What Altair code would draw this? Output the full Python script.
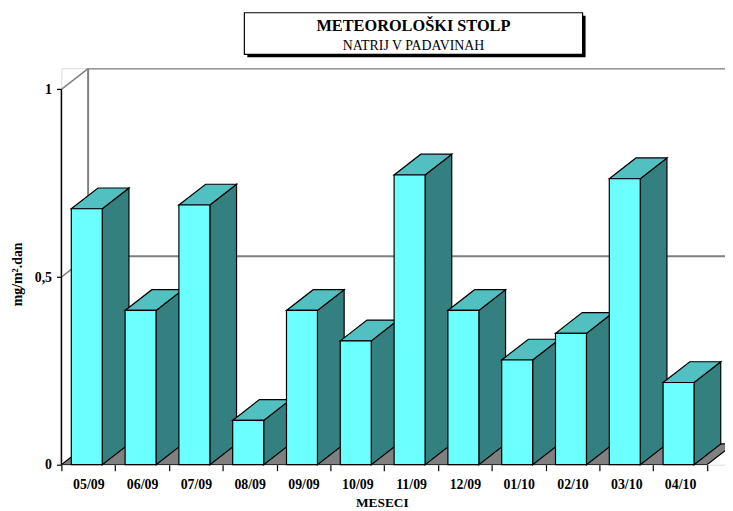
import altair as alt
import pandas as pd

# ---------------- data ----------------
months = ["05/09", "06/09", "07/09", "08/09", "09/09", "10/09",
          "11/09", "12/09", "01/10", "02/10", "03/10", "04/10"]
values = [0.682, 0.411, 0.692, 0.118, 0.411, 0.330,
          0.772, 0.411, 0.279, 0.350, 0.762, 0.219]
y_tick_values = [0, 0.5, 1]
y_tick_labels = ["0", "0,5", "1"]
title_text = "METEOROLOŠKI STOLP"
subtitle_text = "NATRIJ V PADAVINAH"
x_title = "MESECI"
y_title = "mg/m².dan"

# ---------------- geometry (pixels -> data units) ----------------
W, H = 671, 401
PX_CAT = 54.4          # pixels per category slot
PX_UNIT = 379.5        # pixels per 1.0 of value
XMAX = W / PX_CAT
YMAX = H / PX_UNIT
DX = 27 / PX_CAT       # depth offset (x)
DY = 21 / PX_UNIT      # depth offset (y)
GAP = 10 / PX_CAT
BW = 31.3 / PX_CAT
n = len(months)

FONT = "Liberation Serif"
FRONT = "#6cffff"
TOP = "#52c0c0"
SIDE = "#348080"
WALL = "#808080"

xs = alt.Scale(domain=[0, XMAX], nice=False, zero=False)
ys = alt.Scale(domain=[0, YMAX], nice=False, zero=False)

ylab_expr = " : ".join(
    f"datum.value == {v} ? '{l}'" for v, l in zip(y_tick_values, y_tick_labels)
) + " : ''"
month_arr = "[" + ",".join(f"'{m}'" for m in months) + "]"
xlab_expr = f"datum.value < {n} ? {month_arr}[datum.value] : ''"

XAXIS = alt.Axis(
    values=list(range(n + 1)), labelExpr=xlab_expr, labelOffset=PX_CAT / 2,
    domain=False, grid=False, ticks=True, tickSize=6, tickColor="black", tickWidth=1.2,
    labelFont=FONT, labelFontWeight="bold", labelFontSize=14, labelColor="black",
    labelPadding=7, labelFlush=False, labelOverlap=False, labelBound=False,
    title=x_title, titleFont=FONT, titleFontWeight="bold", titleFontSize=13.5,
    titleColor="black", titleX=324, titleY=42, titleBaseline="alphabetic",
    titleAnchor="start", titleAlign="center")
YAXIS = alt.Axis(
    values=y_tick_values, labelExpr=ylab_expr,
    domain=False, grid=False, ticks=True, tickSize=5, tickColor="black", tickWidth=1.2,
    labelFont=FONT, labelFontWeight="bold", labelFontSize=14, labelColor="black",
    labelPadding=5, labelFlush=False, labelOverlap=False, labelBound=False,
    title=y_title, titleFont=FONT, titleFontWeight="bold", titleFontSize=14,
    titleColor="black", titleX=-44, titleY=208, titleAngle=270,
    titleAlign="center", titleBaseline="middle", titleAnchor="start")


def X(f):
    return alt.X(f, scale=xs, axis=XAXIS)


def Y(f):
    return alt.Y(f, scale=ys, axis=YAXIS)


# ---------------- derived tables ----------------
front = pd.DataFrame({
    "month": months,
    "v": values,
    "x0": [i + GAP for i in range(n)],
    "x1": [i + GAP + BW for i in range(n)],
    "base": [0.0] * n,
})

side_rows, top_rows = [], []
for i, v in enumerate(values):
    x0 = i + GAP
    x1 = i + GAP + BW
    for k, (px, py) in enumerate([(x1, 0.0), (x1 + DX, DY), (x1 + DX, v + DY), (x1, v)]):
        side_rows.append({"poly": i, "k": k, "x": px, "y": py})
    for k, (px, py) in enumerate([(x0, v), (x1, v), (x1 + DX, v + DY), (x0 + DX, v + DY)]):
        top_rows.append({"poly": i, "k": k, "x": px, "y": py})
side = pd.DataFrame(side_rows)
top = pd.DataFrame(top_rows)

floor = pd.DataFrame({
    "poly": [0, 0, 0, 0], "k": [0, 1, 2, 3],
    "x": [0.0, float(n), n + DX, DX],
    "y": [0.0, 0.0, DY, DY],
})

back_lines = pd.DataFrame({
    "x": [DX, DX, DX],
    "x2": [XMAX + 1, XMAX + 1, DX],
    "y": [1 + DY, 0.5 + DY, DY],
    "y2": [1 + DY, 0.5 + DY, 1 + DY],
})
diag = pd.DataFrame({
    "x": [0.0, 0.0],
    "x2": [DX, DX],
    "y": [1.0, 0.5],
    "y2": [1 + DY, 0.5 + DY],
})
yaxis_line = pd.DataFrame({"x": [0.0], "y": [0.0], "y2": [1.0]})

# ---------------- layers ----------------
walls = alt.Chart(back_lines).mark_rule(color=WALL, strokeWidth=2, clip=True).encode(
    x=X("x:Q"), x2="x2:Q", y=Y("y:Q"), y2="y2:Q")
diags = alt.Chart(diag).mark_rule(color=WALL, strokeWidth=1.5).encode(
    x=X("x:Q"), x2="x2:Q", y=Y("y:Q"), y2="y2:Q")


def polys(df, fill, clip=False):
    return alt.Chart(df).mark_line(
        fill=fill, stroke="black", strokeWidth=1.2, interpolate="linear-closed",
        clip=clip, strokeJoin="miter"
    ).encode(x=X("x:Q"), y=Y("y:Q"), detail="poly:N", order="k:Q")


floor_layer = polys(floor, WALL, clip=True)
sides = polys(side, SIDE)
tops = polys(top, TOP)

fronts = alt.Chart(front).mark_rect(color=FRONT, stroke="black", strokeWidth=1.2).encode(
    x=X("x0:Q"), x2="x1:Q", y=Y("base:Q"), y2="v:Q")

yline = alt.Chart(yaxis_line).mark_rule(color="black", strokeWidth=1.5).encode(
    x=X("x:Q"), y=Y("y:Q"), y2="y2:Q")

# title box (decoration, pixel placed)
box_df = pd.DataFrame({"t": [title_text]})
box_shadow = alt.Chart(box_df).mark_rect(color="black").encode(
    x=alt.value(188), x2=alt.value(530), y=alt.value(-53), y2=alt.value(-11))
box = alt.Chart(box_df).mark_rect(fill="white", stroke="black", strokeWidth=1.2).encode(
    x=alt.value(185), x2=alt.value(527), y=alt.value(-56), y2=alt.value(-14))
titles = pd.DataFrame({"t": [title_text, subtitle_text]})
t1 = alt.Chart(titles.iloc[[0]]).mark_text(
    font=FONT, fontWeight="bold", fontSize=16.5, color="black", baseline="alphabetic"
).encode(text="t:N", x=alt.value(356), y=alt.value(-38))
t2 = alt.Chart(titles.iloc[[1]]).mark_text(
    font=FONT, fontWeight="normal", fontSize=14, color="black", baseline="alphabetic"
).encode(text="t:N", x=alt.value(356), y=alt.value(-18))

chart = alt.layer(
    walls, diags, floor_layer, sides, tops, fronts, yline,
    box_shadow, box, t1, t2
).properties(
    width=W, height=H,
    autosize=alt.AutoSizeParams(type="none"),
    padding={"left": 54, "top": 58, "right": 0, "bottom": 44},
).configure_view(strokeWidth=0, stroke="transparent").configure(background="white")

chart.save("out.html", embed_options={"renderer": "svg", "actions": False})
